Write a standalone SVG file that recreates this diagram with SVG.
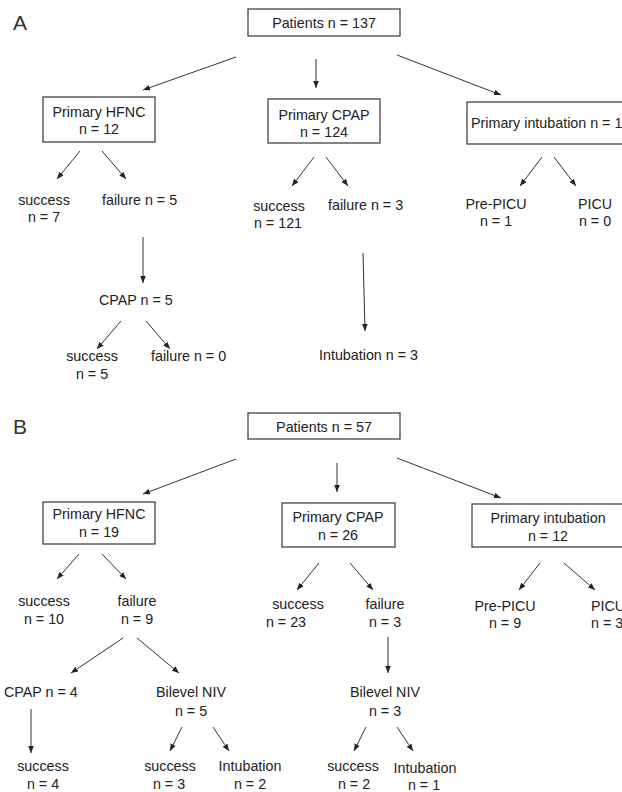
<svg xmlns="http://www.w3.org/2000/svg" width="622" height="792" viewBox="0 0 622 792">
<defs>
<marker id="ah" markerWidth="8" markerHeight="6" refX="7" refY="2.8" orient="auto" markerUnits="userSpaceOnUse">
<path d="M0,0 L7,2.8 L0,5.6 z" fill="#222"/>
</marker>
<style>
.t{font-family:"Liberation Sans",Arial,sans-serif;font-size:14.3px;fill:#222;text-anchor:middle}
.ts{font-family:"Liberation Sans",Arial,sans-serif;font-size:14.3px;fill:#222}
.lab{font-family:"Liberation Sans",Arial,sans-serif;font-size:21px;fill:#333}
.box{fill:#fff;stroke:#444;stroke-width:1.3}
.c line{stroke:#333;stroke-width:1;marker-end:url(#ah)}
</style>
</defs>
<rect width="622" height="792" fill="#fff"/>

<text class="lab" x="13" y="30">A</text>
<text class="lab" x="13" y="434">B</text>

<g class="c" id="connectors">
<line x1="236" y1="57" x2="143" y2="90"/>
<line x1="316" y1="59" x2="316" y2="88"/>
<line x1="397" y1="55" x2="501" y2="95"/>
<line x1="80" y1="151" x2="57" y2="179"/>
<line x1="102" y1="151" x2="126" y2="179"/>
<line x1="314" y1="157" x2="292" y2="186"/>
<line x1="326" y1="157" x2="348" y2="186"/>
<line x1="542" y1="157" x2="520" y2="186"/>
<line x1="554" y1="157" x2="576" y2="186"/>
<line x1="143" y1="237" x2="143" y2="283"/>
<line x1="121" y1="321" x2="97" y2="349"/>
<line x1="146" y1="321" x2="170" y2="349"/>
<line x1="363" y1="253" x2="365" y2="331"/>
<line x1="236" y1="459" x2="143" y2="494"/>
<line x1="337" y1="463" x2="337" y2="492"/>
<line x1="397" y1="458" x2="501" y2="498"/>
<line x1="79" y1="554" x2="57" y2="579"/>
<line x1="102" y1="554" x2="126" y2="579"/>
<line x1="319" y1="563" x2="297" y2="590"/>
<line x1="350" y1="563" x2="373" y2="590"/>
<line x1="540" y1="563" x2="519" y2="590"/>
<line x1="564" y1="563" x2="595" y2="590"/>
<line x1="123" y1="638" x2="71" y2="673"/>
<line x1="137" y1="638" x2="179" y2="673"/>
<line x1="388" y1="637" x2="388" y2="673"/>
<line x1="31" y1="709" x2="31" y2="753"/>
<line x1="182" y1="727" x2="170" y2="751"/>
<line x1="213" y1="727" x2="229" y2="751"/>
<line x1="366" y1="727" x2="354" y2="751"/>
<line x1="397" y1="727" x2="413" y2="751"/>
</g>

<g id="a-patients"><rect class="box" x="248" y="9" width="152" height="27"/><text class="t" x="324" y="28">Patients n = 137</text></g>
<g id="a-hfnc"><rect class="box" x="43" y="97" width="112" height="45"/><text class="t" x="99" y="117">Primary HFNC</text><text class="t" x="99" y="134">n = 12</text></g>
<g id="a-cpap"><rect class="box" x="268" y="99" width="112" height="44"/><text class="t" x="324" y="120">Primary CPAP</text><text class="t" x="324" y="137">n = 124</text></g>
<g id="a-intub"><rect class="box" x="467" y="102" width="170" height="42"/><text class="ts" x="471" y="128">Primary intubation n = 1</text></g>
<g id="a-hfnc-success"><text class="t" x="44" y="205">success</text><text class="t" x="44" y="222">n = 7</text></g>
<g id="a-hfnc-failure"><text class="ts" x="102" y="205">failure n = 5</text></g>
<g id="a-cpap-success"><text class="t" x="279" y="211">success</text><text class="t" x="278" y="228">n = 121</text></g>
<g id="a-cpap-failure"><text class="ts" x="328" y="210">failure n = 3</text></g>
<g id="a-prepicu"><text class="t" x="496" y="209">Pre-PICU</text><text class="t" x="496" y="226">n = 1</text></g>
<g id="a-picu"><text class="t" x="595" y="209">PICU</text><text class="t" x="595" y="226">n = 0</text></g>
<g id="a-cpap5"><text class="ts" x="99" y="305">CPAP n = 5</text></g>
<g id="a-cpap5-success"><text class="t" x="92" y="361">success</text><text class="t" x="92" y="379">n = 5</text></g>
<g id="a-cpap5-failure"><text class="ts" x="151" y="361">failure n = 0</text></g>
<g id="a-intubation3"><text class="ts" x="319" y="360">Intubation n = 3</text></g>

<g id="b-patients"><rect class="box" x="248" y="413" width="152" height="26"/><text class="t" x="324" y="432">Patients n = 57</text></g>
<g id="b-hfnc"><rect class="box" x="43" y="502" width="112" height="42"/><text class="t" x="99" y="519">Primary HFNC</text><text class="t" x="99" y="537">n = 19</text></g>
<g id="b-cpap"><rect class="box" x="282" y="503" width="113" height="44"/><text class="t" x="338" y="522">Primary CPAP</text><text class="t" x="338" y="540">n = 26</text></g>
<g id="b-intub"><rect class="box" x="472" y="504" width="170" height="43"/><text class="t" x="548" y="523">Primary intubation</text><text class="t" x="548" y="541">n = 12</text></g>
<g id="b-hfnc-success"><text class="t" x="44" y="606">success</text><text class="t" x="44" y="624">n = 10</text></g>
<g id="b-hfnc-failure"><text class="t" x="137" y="606">failure</text><text class="t" x="137" y="624">n = 9</text></g>
<g id="b-cpap-success"><text class="t" x="298" y="609">success</text><text class="t" x="286" y="627">n = 23</text></g>
<g id="b-cpap-failure"><text class="t" x="385" y="609">failure</text><text class="t" x="385" y="627">n = 3</text></g>
<g id="b-prepicu"><text class="t" x="505" y="611">Pre-PICU</text><text class="t" x="505" y="628">n = 9</text></g>
<g id="b-picu"><text class="ts" x="591" y="611">PICU</text><text class="ts" x="591" y="628">n = 3</text></g>
<g id="b-cpap4"><text class="ts" x="4" y="697">CPAP n = 4</text></g>
<g id="b-bilevel5"><text class="t" x="191" y="697">Bilevel NIV</text><text class="t" x="191" y="716">n = 5</text></g>
<g id="b-cpap4-success"><text class="t" x="43" y="771">success</text><text class="t" x="43" y="789">n = 4</text></g>
<g id="b-bilevel5-success"><text class="t" x="170" y="771">success</text><text class="t" x="169" y="789">n = 3</text></g>
<g id="b-bilevel5-intub"><text class="t" x="250" y="771">Intubation</text><text class="t" x="250" y="789">n = 2</text></g>
<g id="b-bilevel3"><text class="t" x="385" y="697">Bilevel NIV</text><text class="t" x="385" y="716">n = 3</text></g>
<g id="b-bilevel3-success"><text class="t" x="353" y="771">success</text><text class="t" x="354" y="789">n = 2</text></g>
<g id="b-bilevel3-intub"><text class="t" x="425" y="773">Intubation</text><text class="t" x="424" y="790">n = 1</text></g>
</svg>
